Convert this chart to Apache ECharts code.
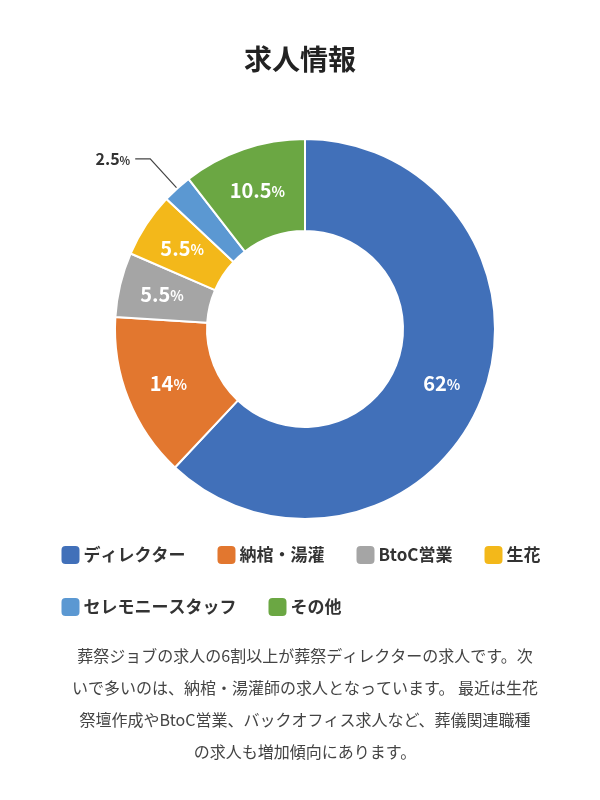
<!DOCTYPE html>
<html><head><meta charset="utf-8">
<script src="https://cdn.jsdelivr.net/npm/echarts@6/dist/echarts.min.js"></script>
<style>html,body{margin:0;background:#fff}#c{width:600px;height:800px}</style>
</head><body><div id="c"></div>
<script>
const categories = ['ディレクター','納棺・湯灌','BtoC営業','生花','セレモニースタッフ','その他'];
const values = [62, 14, 5.5, 5.5, 2.5, 10.5];
const colors = ['#4170b9','#e2772f','#a5a5a5','#f3b81a','#5b98d2','#6ba743'];
const bodyText = '葬祭ジョブの求人の6割以上が葬祭ディレクターの求人です。次\nいで多いのは、納棺・湯灌師の求人となっています。 最近は生花\n祭壇作成やBtoC営業、バックオフィス求人など、葬儀関連職種\nの求人も増加傾向にあります。';
const FONT = '"Noto Sans CJK JP","Noto Sans",sans-serif';
const chart = echarts.init(document.getElementById('c'));
const data = values.map((v,i)=>{
  const d = {name:categories[i], value:v, itemStyle:{color:colors[i]}};
  if (i===4) {
    d.label = {position:'outside', formatter:'{v|{c}}{p|%}', rich:{v:{fontSize:16,fontWeight:'bold',color:'#333',fontFamily:FONT},p:{fontSize:11,fontWeight:'bold',color:'#333',fontFamily:FONT}}};
    d.labelLine = {show:true, length:40, length2:15, lineStyle:{color:'#444',width:1.2}};
    d.labelLayout = {dx:68, dy:-15};
  }
  return d;
});
chart.setOption({
  backgroundColor:'#fff',
  title:[{text:'求人情報', left:'center', top:40, textStyle:{fontSize:28,fontWeight:'bold',color:'#222',fontFamily:FONT}},
    {text:bodyText, left:300, top:635, textAlign:'center', textStyle:{fontSize:16,fontWeight:'normal',color:'#444',lineHeight:32,fontFamily:FONT,align:'center'}}],
  legend:{top:539, left:'center', width:540, itemWidth:20, itemHeight:20, itemGap:30, icon:'roundRect',
    textStyle:{fontSize:17,fontWeight:'bold',color:'#333',fontFamily:FONT,padding:[0,0,0,-2]}, data:categories},
  series:[{type:'pie', center:[305,329], radius:[98,190], startAngle:90, clockwise:true,
    itemStyle:{borderColor:'#fff',borderWidth:2},
    label:{position:'inside', formatter:'{v|{c}}{p|%}', rich:{v:{fontSize:20,fontWeight:'bold',color:'#fff',fontFamily:FONT},p:{fontSize:14,fontWeight:'bold',color:'#fff',fontFamily:FONT,padding:[3,0,0,0]}}},
    labelLine:{show:false},
    data:data}]
});
</script></body></html>
